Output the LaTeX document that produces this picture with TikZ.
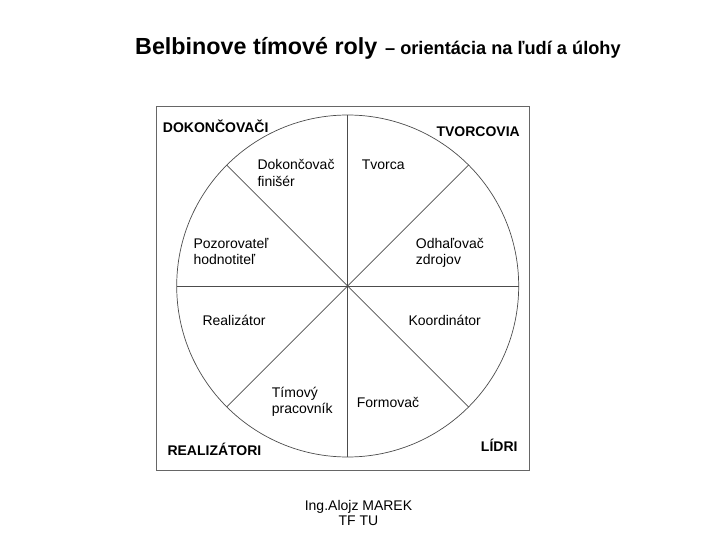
\documentclass[tikz,border=0pt]{standalone}
\usepackage{fontspec}
\setmainfont{Liberation Sans}
\usetikzlibrary{calc}
% two lines, base = first line, fixed baseline distance
\newcommand{\lines}[2]{\vtop{\baselineskip=16.5pt\lineskiplimit=-100pt\hbox{#1}\hbox{#2}}}
\tikzset{
  role/.style={anchor=base west, inner sep=0pt, font=\fontsize{14}{16.5}\selectfont},
  group/.style={inner sep=0pt, font=\fontsize{14}{16.5}\selectfont\bfseries},
  spoke/.style={black!70, line width=0.7pt},
}
\begin{document}
\begin{tikzpicture}[x=1pt, y=-1pt]
\useasboundingbox (0,0) rectangle (720,540);
% title
\node[anchor=base west, inner sep=0pt] (title) at (135,55)
  {{\fontsize{23.3}{26}\selectfont\bfseries Belbinove tímové roly}\hspace{5pt} {\fontsize{18.2}{20}\selectfont\bfseries – orientácia na ľudí a úlohy}};
% frame and wheel
\draw[black!60, line width=0.9pt] (156.7,106.7) rectangle (529,470);
\coordinate (c) at (347.7,286);
\draw[spoke] (c) circle (171pt);
\foreach \a in {0,45,90,135}
  \draw[spoke] ($(c)+(\a:171)$) -- ($(c)+(\a+180:171)$);
% groups
\node[group, anchor=base west] (dokoncovaci) at (162.7,133) {DOKONČOVAČI};
\node[group, anchor=base east] (tvorcovia) at (520,137) {TVORCOVIA};
\node[group, anchor=base west] (realizatori) at (167.3,455) {REALIZÁTORI};
\node[group, anchor=base east] (lidri) at (517.7,451) {LÍDRI};
% roles
\node[role] (dokoncovac) at (257.3,170) {\lines{Dokončovač}{finišér}};
\node[role] (tvorca) at (361.7,170) {Tvorca};
\node[role] (pozorovatel) at (193.3,248) {\lines{Pozorovateľ}{hodnotiteľ}};
\node[role] (odhalovac) at (415.7,248) {\lines{Odhaľovač}{zdrojov}};
\node[role] (realizator) at (202.3,325) {Realizátor};
\node[role] (koordinator) at (408.3,325) {Koordinátor};
\node[role] (timovy) at (271.7,397) {\lines{Tímový}{pracovník}};
\node[role] (formovac) at (356.7,407) {Formovač};
% author
\node[anchor=base, inner sep=0pt, font=\fontsize{14}{15}\selectfont] (author) at (358.5,510)
  {\vtop{\baselineskip=15pt\lineskiplimit=-100pt\halign{\hfil#\hfil\cr Ing.Alojz MAREK\cr TF TU\cr}}};
\end{tikzpicture}
\end{document}
